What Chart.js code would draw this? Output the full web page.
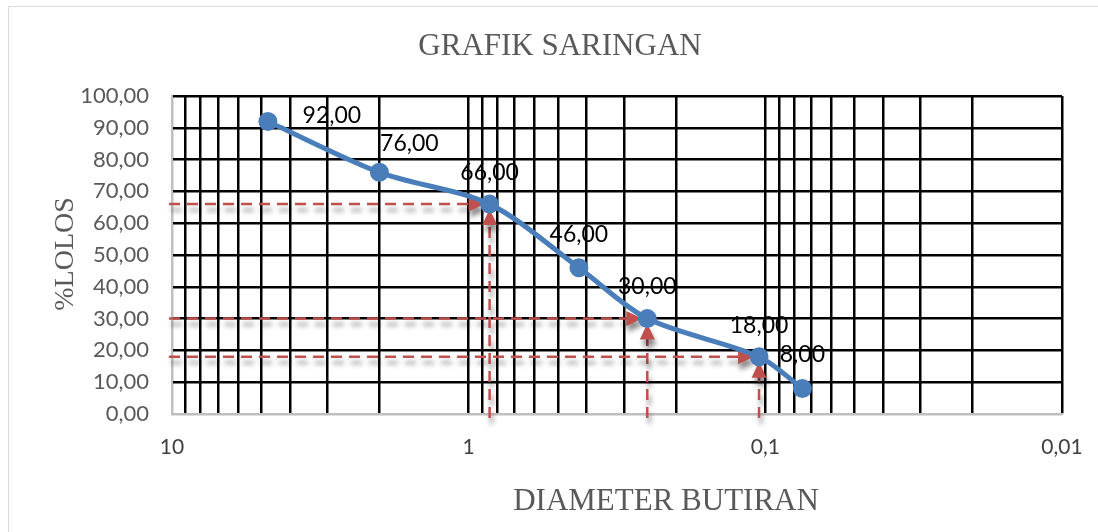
<!DOCTYPE html>
<html>
<head>
<meta charset="utf-8">
<title>Grafik Saringan</title>
<script src="https://cdn.jsdelivr.net/npm/chart.js@4.4.1/dist/chart.umd.min.js"></script>
<style>
  body { margin: 0; background: #fff; }
  #wrap { width: 1098px; height: 532px; }
</style>
</head>
<body>
<div id="wrap"><canvas id="grafikSaringan" width="1098" height="532"></canvas></div>
<script>
// data analisa saringan
const diameter = [4.75, 2.0, 0.85, 0.425, 0.25, 0.105, 0.075];
const lolos = [92, 76, 66, 46, 30, 18, 8];

// garis grid sumbu x (log) dan label yang ditampilkan
const gridDiameter = [10, 9, 8, 7, 6, 5, 4, 3, 2,
  1, 0.9, 0.8, 0.7, 0.6, 0.5, 0.4, 0.3, 0.2,
  0.1, 0.09, 0.08, 0.07, 0.06, 0.05, 0.04, 0.03, 0.02, 0.01];
const labelDiameter = [10, 1, 0.1, 0.01];
const yMin = 0;
const yMax = 100;
const yStep = 10;

// titik yang diberi garis bantu panah merah
const titikBantu = [2, 4, 5];

const judul = 'GRAFIK SARINGAN';
const judulX = 'DIAMETER BUTIRAN';
const judulY = '%LOLOS';

const formatKoma = (v, d) => (d === undefined ? String(v) : v.toFixed(d)).replace('.', ',');

// posisi label angka relatif ke titik (sebagian digeser manual seperti di Excel)
const geserLabel = [[64, -6], [30, -29], [0, -32], [0, -33], [0, -32], [0, -31], [0, -34]];

// teks judul + bingkai luar
const judulPlugin = {
  id: 'judulPlugin',
  beforeDraw(chart) {
    const ctx = chart.ctx;
    ctx.save();
    ctx.strokeStyle = '#d9d9d9';
    ctx.lineWidth = 1;
    ctx.strokeRect(8.5, 6.5, 1200, 600);
    ctx.fillStyle = '#595959';
    ctx.font = '31px "Liberation Serif", "Times New Roman", serif';
    ctx.textAlign = 'center';
    ctx.textBaseline = 'alphabetic';
    ctx.fillText(judul, 560, 55);
    ctx.fillText(judulX, 666, 510);
    ctx.translate(73, 254);
    ctx.rotate(-Math.PI / 2);
    ctx.font = '28px "Liberation Serif", "Times New Roman", serif';
    ctx.fillText(judulY, 0, 0);
    ctx.restore();
  }
};

// garis putus-putus merah dengan panah ke titik
const panahPlugin = {
  id: 'panahPlugin',
  beforeDatasetsDraw(chart) {
    const ctx = chart.ctx;
    const xs = chart.scales.x;
    const ys = chart.scales.y;
    const area = chart.chartArea;
    ctx.save();
    ctx.strokeStyle = '#c0504d';
    ctx.fillStyle = '#c0504d';
    ctx.lineWidth = 2.5;
    ctx.shadowColor = 'rgba(0,0,0,0.45)';
    ctx.shadowBlur = 5;
    ctx.shadowOffsetX = 2;
    ctx.shadowOffsetY = 6;
    titikBantu.forEach(i => {
      const px = xs.getPixelForValue(diameter[i]);
      const py = ys.getPixelForValue(lolos[i]);
      // horizontal
      ctx.setLineDash([11, 7]);
      ctx.beginPath();
      ctx.moveTo(area.left - 3, py);
      ctx.lineTo(px - 20, py);
      ctx.stroke();
      // vertikal
      ctx.beginPath();
      ctx.moveTo(px, area.bottom + 4);
      ctx.lineTo(px, py + 20);
      ctx.stroke();
      ctx.setLineDash([]);
      // kepala panah
      ctx.beginPath();
      ctx.moveTo(px - 5, py);
      ctx.lineTo(px - 21, py - 7.5);
      ctx.lineTo(px - 21, py + 7.5);
      ctx.closePath();
      ctx.fill();
      ctx.beginPath();
      ctx.moveTo(px, py + 5);
      ctx.lineTo(px - 7.5, py + 21);
      ctx.lineTo(px + 7.5, py + 21);
      ctx.closePath();
      ctx.fill();
    });
    ctx.restore();
  }
};

// label nilai di atas titik
const labelPlugin = {
  id: 'labelPlugin',
  afterDatasetsDraw(chart) {
    const ctx = chart.ctx;
    const meta = chart.getDatasetMeta(0);
    ctx.save();
    ctx.fillStyle = '#000';
    ctx.font = '23px Lato, "Open Sans", sans-serif';
    ctx.textAlign = 'center';
    ctx.textBaseline = 'middle';
    meta.data.forEach((pt, i) => {
      const g = geserLabel[i] || [0, -32];
      ctx.fillText(formatKoma(lolos[i], 2), pt.x + g[0], pt.y + g[1]);
    });
    ctx.restore();
  }
};

const warnaGrid = (ctx, tepi) => (ctx.tick && ctx.tick.value === tepi ? '#bfbfbf' : '#000');

new Chart(document.getElementById('grafikSaringan'), {
  type: 'line',
  data: {
    datasets: [{
      label: '% Lolos',
      data: diameter.map((d, i) => ({ x: d, y: lolos[i] })),
      borderColor: '#4a7ebb',
      backgroundColor: '#4a7ebb',
      borderWidth: 5,
      pointRadius: 7,
      pointHoverRadius: 7,
      tension: 0.3,
      fill: false
    }]
  },
  options: {
    responsive: false,
    animation: false,
    devicePixelRatio: 1,
    layout: { padding: { left: 0, right: 36, top: 96, bottom: 0 } },
    plugins: {
      legend: { display: false },
      title: { display: false },
      tooltip: { enabled: false }
    },
    scales: {
      x: {
        type: 'logarithmic',
        reverse: true,
        min: 0.01,
        max: 10,
        afterBuildTicks: scale => { scale.ticks = gridDiameter.map(v => ({ value: v })); },
        afterFit: scale => {
          scale.height = 118;
          scale.paddingLeft = 0;
          scale.paddingRight = 0;
        },
        grid: {
          color: ctx => warnaGrid(ctx, 10),
          lineWidth: 2.5,
          drawTicks: false
        },
        border: { color: '#bfbfbf', width: 2 },
        ticks: {
          autoSkip: false,
          maxRotation: 0,
          padding: 21,
          color: '#404040',
          font: { family: 'Lato', size: 21 },
          callback: v => (labelDiameter.includes(v) ? formatKoma(v) : '')
        }
      },
      y: {
        min: yMin,
        max: yMax,
        afterFit: scale => {
          scale.width = 172;
          scale.paddingTop = 0;
          scale.paddingBottom = 0;
        },
        grid: {
          color: ctx => warnaGrid(ctx, 0),
          lineWidth: 2.5,
          drawTicks: false
        },
        border: { color: '#bfbfbf', width: 2 },
        ticks: {
          stepSize: yStep,
          padding: 23,
          color: '#595959',
          font: { family: 'Lato', size: 22 },
          callback: v => formatKoma(v, 2)
        }
      }
    }
  },
  plugins: [judulPlugin, panahPlugin, labelPlugin]
});
</script>
</body>
</html>
